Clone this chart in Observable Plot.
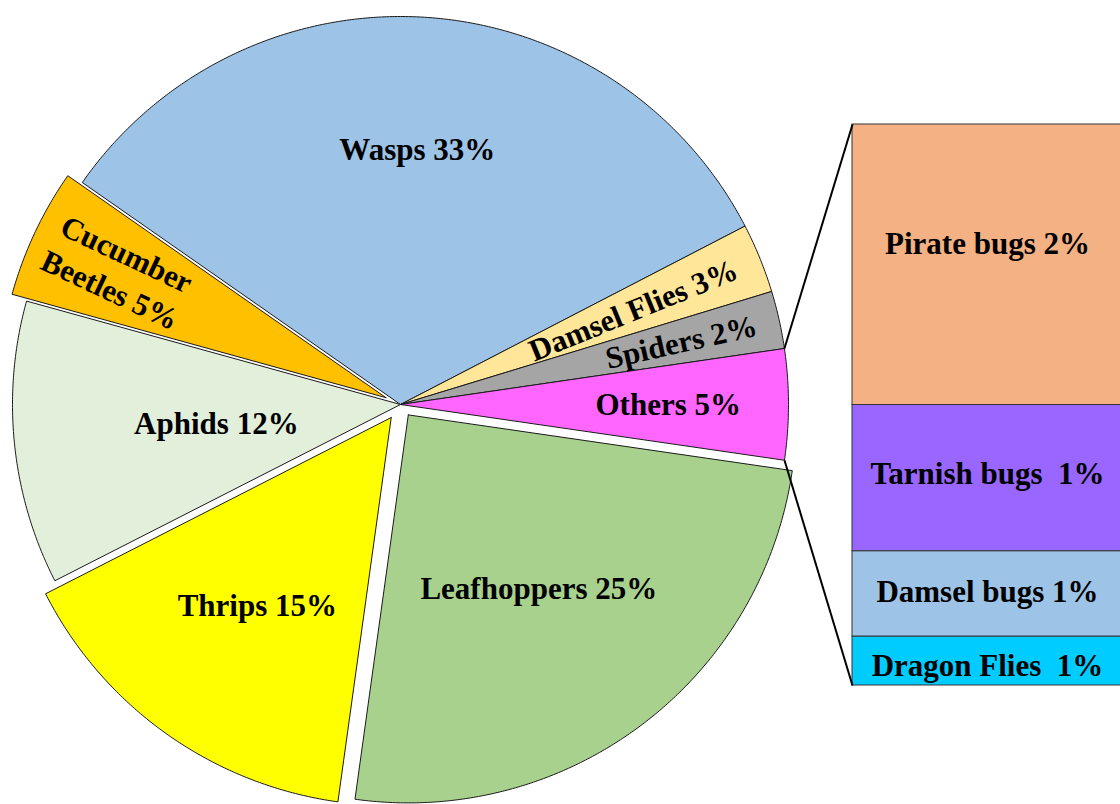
<!DOCTYPE html>
<html><head><meta charset="utf-8">
<script src="https://cdn.jsdelivr.net/npm/d3@7"></script>
<script src="https://cdn.jsdelivr.net/npm/@observablehq/plot@0.6"></script>
<style>
html,body{margin:0;padding:0;background:#fff;overflow:hidden;}
#chart svg text{white-space:pre;}
</style></head><body><div id="chart"></div>
<script>
// ---- data ----
const categories = ["Wasps","Damsel Flies","Spiders","Others","Leafhoppers","Thrips","Aphids","Cucumber Beetles"];
const values = [32.7, 2.9, 2.4, 4.6, 24.9, 15.3, 11.8, 5.4];
const labels = ["Wasps 33%","Damsel Flies 3%","Spiders 2%","Others 5%","Leafhoppers 25%","Thrips 15%","Aphids 12%","Cucumber\nBeetles 5%"];
const colors = ["#9DC3E6","#FFE699","#A5A5A5","#FF66FF","#A9D18E","#FFFF00","#E2EFDA","#FFC000"];
const subCategories = ["Pirate bugs","Tarnish bugs","Damsel bugs","Dragon Flies"];
const subValues = [2.3, 1.2, 0.7, 0.4];
const subLabels = ["Pirate bugs 2%","Tarnish bugs  1%","Damsel bugs 1%","Dragon Flies  1%"];
const subColors = ["#F4B183","#9966FF","#9DC3E6","#00CCFF"];

// ---- layout ----
const W = 1120, H = 804, R = 388, CX = 400, CY = 404;
const startDeg = -55.1;                       // pie start angle (0 = 12 o'clock, clockwise)
const explode = {"Leafhoppers": 13 / R, "Thrips": 16 / R, "Cucumber Beetles": 16 / R};
const labelRadius = {"Wasps": 0.66, "Damsel Flies": 0.645, "Spiders": 0.74, "Others": 0.69,
  "Leafhoppers": 0.56, "Thrips": 0.595, "Aphids": 0.477, "Cucumber Beetles": 0.76};
const radialLabels = new Set(["Damsel Flies", "Spiders", "Cucumber Beetles"]);
const subLabelDy = {"Pirate bugs": -21, "Tarnish bugs": -4, "Damsel bugs": -2, "Dragon Flies": 5};
const bar = {x1: (852 - CX) / R, x2: (1128 - CX) / R, top: (CY - 124) / R, bottom: (CY - 685) / R};

const rad = Math.PI / 180;
const pie = d3.pie().sort(null).value(d => d.value)
  .startAngle(startDeg * rad).endAngle((startDeg + 360) * rad);
const arcs = pie(categories.map((name, i) => ({name, value: values[i], label: labels[i]})));

const slicePts = [];
const pieLabels = [];
let othersArc;
for (const a of arcs) {
  const name = a.data.name;
  const mid = (a.startAngle + a.endAngle) / 2;
  const e = explode[name] || 0;
  const ox = e * Math.sin(mid), oy = e * Math.cos(mid);
  slicePts.push({name, x: ox, y: oy});
  const n = Math.max(4, Math.ceil((a.endAngle - a.startAngle) / (0.4 * rad)));
  for (let k = 0; k <= n; k++) {
    const t = a.startAngle + (a.endAngle - a.startAngle) * k / n;
    slicePts.push({name, x: ox + Math.sin(t), y: oy + Math.cos(t)});
  }
  slicePts.push({name, x: ox, y: oy});
  const lr = labelRadius[name];
  let rot = 0;
  if (radialLabels.has(name)) {
    rot = mid / rad - 90;
    while (rot > 90) rot -= 180;
    while (rot < -90) rot += 180;
  }
  pieLabels.push({label: a.data.label, x: ox + lr * Math.sin(mid), y: oy + lr * Math.cos(mid), rotate: rot});
  if (name === "Others") othersArc = a;
}

const subTotal = d3.sum(subValues);
const barH = bar.top - bar.bottom;
let acc = 0;
const barSegs = subCategories.map((name, i) => {
  const y1 = bar.top - acc / subTotal * barH;
  acc += subValues[i];
  const y2 = bar.top - acc / subTotal * barH;
  return {name, label: subLabels[i], x1: bar.x1, x2: bar.x2, y1, y2,
    xm: (bar.x1 + bar.x2) / 2 - 3 / R, ym: (y1 + y2) / 2 - (subLabelDy[name] || 0) / R};
});

const connectors = [
  {x1: Math.sin(othersArc.startAngle), y1: Math.cos(othersArc.startAngle), x2: bar.x1, y2: bar.top},
  {x1: Math.sin(othersArc.endAngle), y1: Math.cos(othersArc.endAngle), x2: bar.x1, y2: bar.bottom}
];

const font = "'Liberation Serif', 'Times New Roman', serif";
const chart = Plot.plot({
  width: W, height: H, margin: 0,
  x: {domain: [-CX / R, (W - CX) / R], axis: null},
  y: {domain: [(CY - H) / R, CY / R], axis: null},
  color: {domain: [...categories, ...subCategories], range: [...colors, ...subColors]},
  style: {fontFamily: font, background: "#fff", overflow: "hidden"},
  marks: [
    Plot.line(slicePts, {x: "x", y: "y", z: "name", fill: "name", stroke: "#1a1a1a", strokeWidth: 1, curve: "linear"}),
    Plot.rect(barSegs, {x1: "x1", x2: "x2", y1: "y1", y2: "y2", fill: "name", stroke: "#333", strokeWidth: 1, clip: true}),
    Plot.link(connectors, {x1: "x1", y1: "y1", x2: "x2", y2: "y2", stroke: "#000", strokeWidth: 2}),
    Plot.text(pieLabels, {x: "x", y: "y", text: "label", rotate: "rotate", fontSize: 31, fontWeight: "bold", fill: "#000", lineHeight: 1.27, dy: -2, fontFamily: font}),
    Plot.text(barSegs, {x: "xm", y: "ym", text: "label", fontSize: 31, fontWeight: "bold", fill: "#000", fontFamily: font})
  ]
});
document.getElementById("chart").appendChild(chart);
</script></body></html>
